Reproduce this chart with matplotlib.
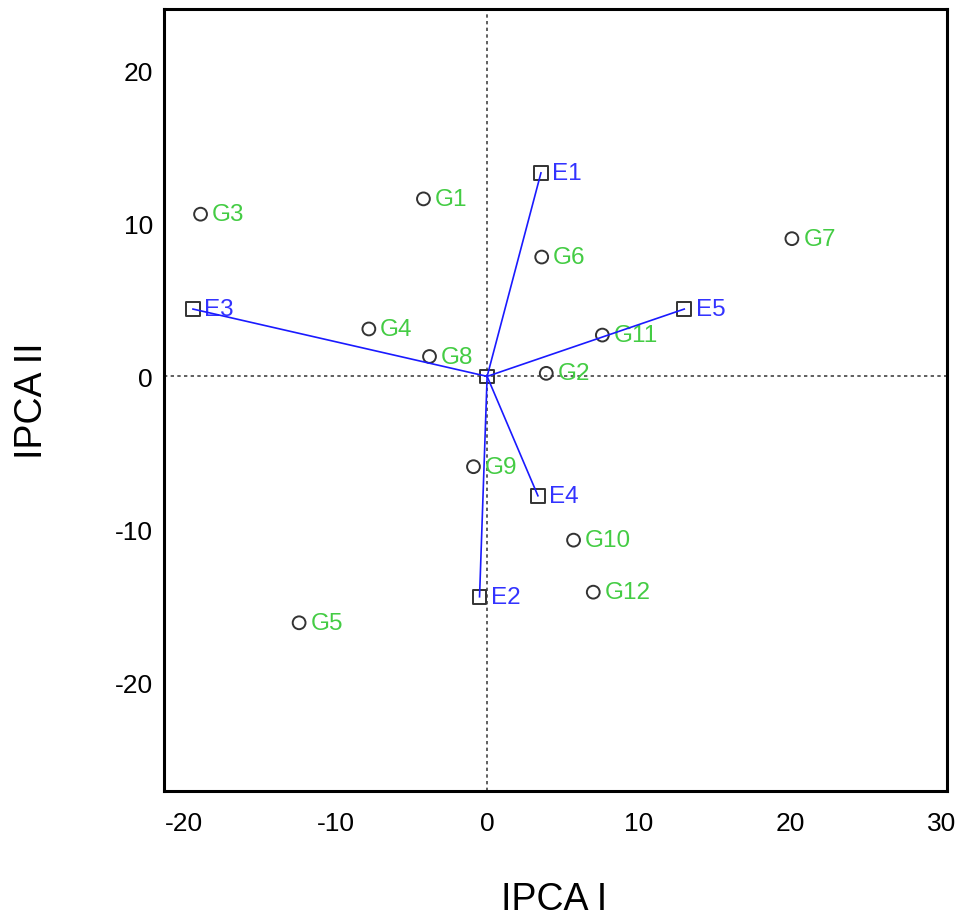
import matplotlib.pyplot as plt

plt.rcParams['font.family'] = ['Liberation Sans', 'DejaVu Sans']
plt.rcParams['axes.unicode_minus'] = False

genotypes = ['G1', 'G2', 'G3', 'G4', 'G5', 'G6', 'G7', 'G8', 'G9', 'G10', 'G11', 'G12']
g_ipca1 = [-4.2, 3.9, -18.9, -7.8, -12.4, 3.6, 20.1, -3.8, -0.9, 5.7, 7.6, 7.0]
g_ipca2 = [11.6, 0.2, 10.6, 3.1, -16.1, 7.8, 9.0, 1.3, -5.9, -10.7, 2.7, -14.1]

envs = ['E1', 'E2', 'E3', 'E4', 'E5']
e_ipca1 = [3.55, -0.5, -19.4, 3.35, 13.0]
e_ipca2 = [13.3, -14.4, 4.4, -7.8, 4.4]

fig = plt.figure(figsize=(9.6, 9.2), dpi=100)
ax = fig.add_axes([0.171, 0.139, 0.815, 0.850])

ax.axhline(0, color='#444444', linestyle=(0, (2, 2)), linewidth=1.2, zorder=1)
ax.axvline(0, color='#444444', linestyle=(0, (2, 2)), linewidth=1.2, zorder=1)

ax.scatter(g_ipca1, g_ipca2, s=85, marker='o', facecolors='none',
           edgecolors='#333333', linewidths=1.4, zorder=2)
ax.scatter(e_ipca1 + [0], e_ipca2 + [0], s=95, marker='s', facecolors='none',
           edgecolors='#333333', linewidths=1.4, zorder=2)

for name, x, y in zip(genotypes, g_ipca1, g_ipca2):
    ax.text(x + 0.75, y, name, color='#44cc44', fontsize=17.5, va='center', ha='left', zorder=3)
for name, x, y in zip(envs, e_ipca1, e_ipca2):
    ax.text(x + 0.75, y, name, color='#3333ff', fontsize=17.5, va='center', ha='left', zorder=3)

# environment vectors
for x, y in zip(e_ipca1, e_ipca2):
    ax.plot([0, x], [0, y], color='#1a1aff', linewidth=1.2, zorder=4)

ax.set_xlim(-21.3, 30.3)
ax.set_ylim(-27.1, 24.0)
ax.set_xticks([-20, -10, 0, 10, 20, 30])
ax.set_yticks([-20, -10, 0, 10, 20])
ax.tick_params(length=0, labelsize=19)
ax.tick_params(axis='x', pad=14)
ax.tick_params(axis='y', pad=8)

for s in ax.spines.values():
    s.set_linewidth(2.2)

fig.text(554 / 960, 1 - 910 / 920, 'IPCA I', fontsize=27, ha='center', va='baseline')
fig.text(42 / 960, 1 - 401 / 920, 'IPCA II', fontsize=27, rotation=90,
         rotation_mode='anchor', ha='center', va='baseline')

fig.savefig('out.png', dpi=100)
